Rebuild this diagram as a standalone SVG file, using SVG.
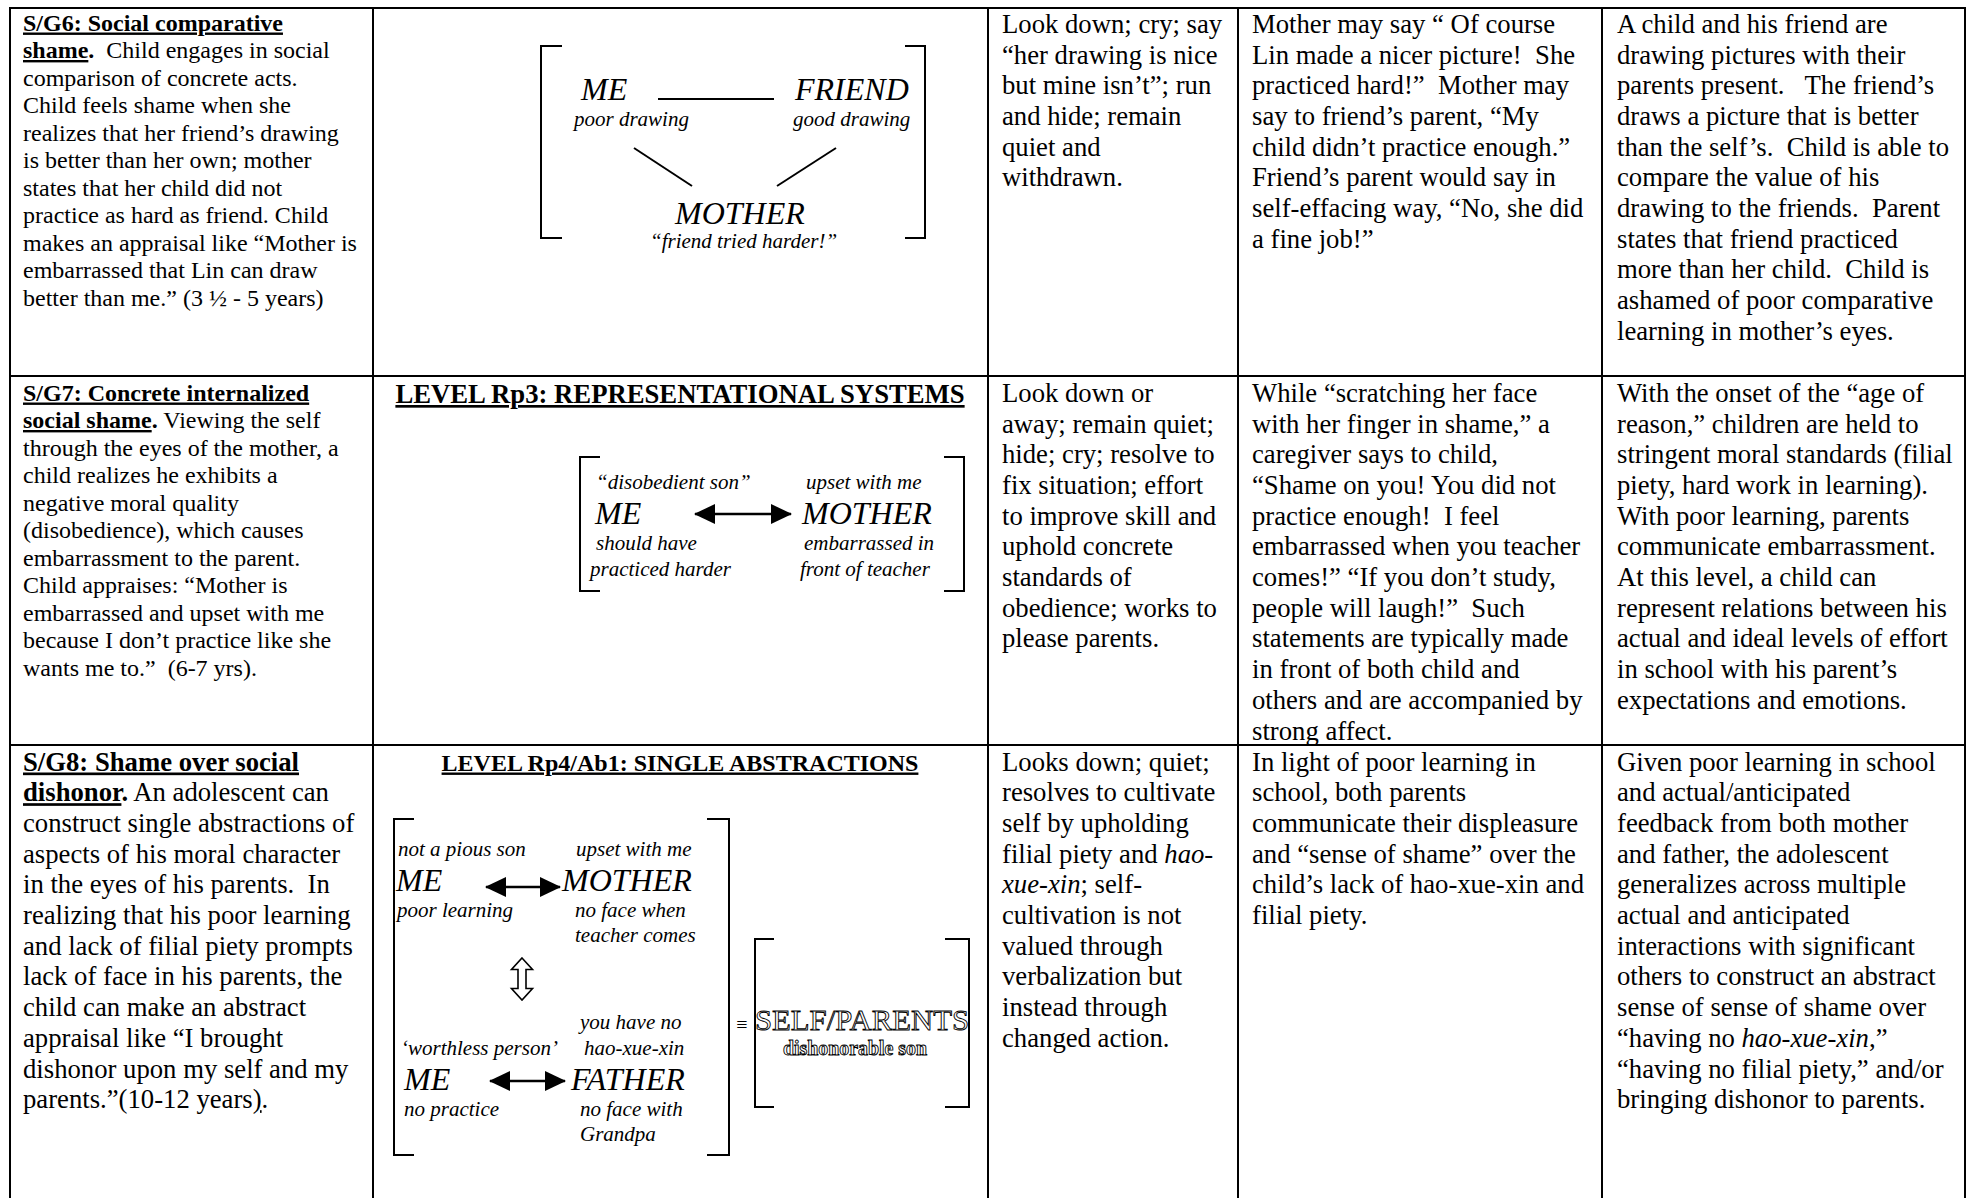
<svg xmlns="http://www.w3.org/2000/svg" width="1967" height="1198" viewBox="0 0 1967 1198">
<style>
text{font-family:"Liberation Serif","Times New Roman","DejaVu Serif",serif;fill:#000;white-space:pre;}
.s24{font-size:24px;}
.s27{font-size:26.7px;}
.bo{font-weight:bold;}
.u{text-decoration:underline;}
.it{font-style:italic;}
.big{font-size:32px;font-style:italic;}
.lab{font-size:21px;font-style:italic;}
.grid line{stroke:#000;stroke-width:2;}
.br{fill:none;stroke:#000;stroke-width:2;}
.con{stroke:#000;stroke-width:2;fill:none;}
.arr{stroke:#000;stroke-width:2.5;fill:none;marker-start:url(#head);marker-end:url(#head);}
.outl{fill:#fff;stroke:#000;stroke-width:0.9;}
</style>
<defs>
<marker id="head" markerUnits="userSpaceOnUse" markerWidth="21" markerHeight="20" refX="20" refY="10" orient="auto-start-reverse" viewBox="0 0 21 20"><path d="M0,0 L21,10 L0,20 Z" fill="#000"/></marker>
</defs>
<rect x="0" y="0" width="1967" height="1198" fill="#fff"/>
<g id="grid" class="grid">
<line x1="10" y1="8" x2="1965" y2="8"/>
<line x1="10" y1="376" x2="1965" y2="376"/>
<line x1="10" y1="745" x2="1965" y2="745"/>
<line x1="10" y1="7" x2="10" y2="1198"/>
<line x1="373" y1="7" x2="373" y2="1198"/>
<line x1="988" y1="7" x2="988" y2="1198"/>
<line x1="1238" y1="7" x2="1238" y2="1198"/>
<line x1="1602" y1="7" x2="1602" y2="1198"/>
<line x1="1965" y1="7" x2="1965" y2="1198"/>
</g>
<g id="r1c1" class="s24">
<text x="23" y="30.5" class="bo u">S/G6: Social comparative</text>
<text x="23" y="58"><tspan class="bo u">shame</tspan><tspan class="bo">.</tspan> &#160;Child engages in social</text>
<text x="23" y="85.5">comparison of concrete acts.</text>
<text x="23" y="113">Child feels shame when she</text>
<text x="23" y="140.5">realizes that her friend’s drawing</text>
<text x="23" y="168">is better than her own; mother</text>
<text x="23" y="195.5">states that her child did not</text>
<text x="23" y="223">practice as hard as friend. Child</text>
<text x="23" y="250.5">makes an appraisal like “Mother is</text>
<text x="23" y="278">embarrassed that Lin can draw</text>
<text x="23" y="305.5">better than me.” (3 ½ - 5 years)</text>
</g>
<g id="r1c3" class="s27">
<text x="1002" y="32.8">Look down; cry; say</text>
<text x="1002" y="63.5">“her drawing is nice</text>
<text x="1002" y="94.2">but mine isn’t”; run</text>
<text x="1002" y="124.9">and hide; remain</text>
<text x="1002" y="155.6">quiet and</text>
<text x="1002" y="186.3">withdrawn.</text>
</g>
<g id="r1c4" class="s27">
<text x="1252" y="32.8">Mother may say “ Of course</text>
<text x="1252" y="63.5">Lin made a nicer picture! &#160;She</text>
<text x="1252" y="94.2">practiced hard!” &#160;Mother may</text>
<text x="1252" y="124.9">say to friend’s parent, “My</text>
<text x="1252" y="155.6">child didn’t practice enough.”</text>
<text x="1252" y="186.3">Friend’s parent would say in</text>
<text x="1252" y="217">self-effacing way, “No, she did</text>
<text x="1252" y="247.7">a fine job!”</text>
</g>
<g id="r1c5" class="s27">
<text x="1617" y="32.8">A child and his friend are</text>
<text x="1617" y="63.5">drawing pictures with their</text>
<text x="1617" y="94.2">parents present. &#160;&#160;The friend’s</text>
<text x="1617" y="124.9">draws a picture that is better</text>
<text x="1617" y="155.6">than the self’s. &#160;Child is able to</text>
<text x="1617" y="186.3">compare the value of his</text>
<text x="1617" y="217">drawing to the friends. &#160;Parent</text>
<text x="1617" y="247.7">states that friend practiced</text>
<text x="1617" y="278.4">more than her child. &#160;Child is</text>
<text x="1617" y="309.1">ashamed of poor comparative</text>
<text x="1617" y="339.8">learning in mother’s eyes.</text>
</g>
<g id="r1-diagram">
<path class="br" d="M562,46 H541 V238 H562"/>
<path class="br" d="M905,46 H925 V238 H905"/>
<g id="r1-me"><text x="581" y="100" class="big">ME</text><text x="574" y="126" class="lab">poor drawing</text></g>
<g id="r1-friend"><text x="795" y="100" class="big">FRIEND</text><text x="793" y="126" class="lab">good drawing</text></g>
<g id="r1-mother"><text x="675" y="224" class="big">MOTHER</text><text x="650" y="248" class="lab">“friend tried harder!”</text></g>
</g>
<g id="r2c1" class="s24">
<text x="23" y="400.5" class="bo u">S/G7: Concrete internalized</text>
<text x="23" y="428"><tspan class="bo u">social shame</tspan><tspan class="bo">.</tspan> Viewing the self</text>
<text x="23" y="455.5">through the eyes of the mother, a</text>
<text x="23" y="483">child realizes he exhibits a</text>
<text x="23" y="510.5">negative moral quality</text>
<text x="23" y="538">(disobedience), which causes</text>
<text x="23" y="565.5">embarrassment to the parent.</text>
<text x="23" y="593">Child appraises: “Mother is</text>
<text x="23" y="620.5">embarrassed and upset with me</text>
<text x="23" y="648">because I don’t practice like she</text>
<text x="23" y="675.5">wants me to.” &#160;(6-7 yrs).</text>
</g>
<g id="r2-title"><text x="680" y="403" class="s27 bo u" text-anchor="middle">LEVEL Rp3: REPRESENTATIONAL SYSTEMS</text></g>
<g id="r2-diagram">
<path class="br" d="M600,457 H580 V591 H600"/>
<path class="br" d="M944,457 H964 V591 H944"/>
<g id="r2-me"><text x="596" y="489" class="lab">“disobedient son”</text><text x="595" y="524" class="big">ME</text><text x="596" y="550" class="lab">should have</text><text x="590" y="576" class="lab">practiced harder</text></g>
<g id="r2-mother"><text x="806" y="489" class="lab">upset with me</text><text x="802" y="524" class="big">MOTHER</text><text x="804" y="550" class="lab">embarrassed in</text><text x="800" y="576" class="lab">front of teacher</text></g>
</g>
<g id="r2c3" class="s27">
<text x="1002" y="401.8">Look down or</text>
<text x="1002" y="432.5">away; remain quiet;</text>
<text x="1002" y="463.2">hide; cry; resolve to</text>
<text x="1002" y="493.9">fix situation; effort</text>
<text x="1002" y="524.6">to improve skill and</text>
<text x="1002" y="555.3">uphold concrete</text>
<text x="1002" y="586">standards of</text>
<text x="1002" y="616.7">obedience; works to</text>
<text x="1002" y="647.4">please parents.</text>
</g>
<g id="r2c4" class="s27">
<text x="1252" y="401.8">While “scratching her face</text>
<text x="1252" y="432.5">with her finger in shame,” a</text>
<text x="1252" y="463.2">caregiver says to child,</text>
<text x="1252" y="493.9">“Shame on you! You did not</text>
<text x="1252" y="524.6">practice enough! &#160;I feel</text>
<text x="1252" y="555.3">embarrassed when you teacher</text>
<text x="1252" y="586">comes!” “If you don’t study,</text>
<text x="1252" y="616.7">people will laugh!” &#160;Such</text>
<text x="1252" y="647.4">statements are typically made</text>
<text x="1252" y="678.1">in front of both child and</text>
<text x="1252" y="708.8">others and are accompanied by</text>
<text x="1252" y="739.5">strong affect.</text>
</g>
<g id="r2c5" class="s27">
<text x="1617" y="401.8">With the onset of the “age of</text>
<text x="1617" y="432.5">reason,” children are held to</text>
<text x="1617" y="463.2">stringent moral standards (filial</text>
<text x="1617" y="493.9">piety, hard work in learning).</text>
<text x="1617" y="524.6">With poor learning, parents</text>
<text x="1617" y="555.3">communicate embarrassment.</text>
<text x="1617" y="586">At this level, a child can</text>
<text x="1617" y="616.7">represent relations between his</text>
<text x="1617" y="647.4">actual and ideal levels of effort</text>
<text x="1617" y="678.1">in school with his parent’s</text>
<text x="1617" y="708.8">expectations and emotions.</text>
</g>
<g id="r3c1" class="s27">
<text x="23" y="770.5" class="bo u">S/G8: Shame over social</text>
<text x="23" y="801.2"><tspan class="bo u">dishonor</tspan><tspan class="bo">.</tspan> An adolescent can</text>
<text x="23" y="831.9">construct single abstractions of</text>
<text x="23" y="862.6">aspects of his moral character</text>
<text x="23" y="893.3">in the eyes of his parents. &#160;In</text>
<text x="23" y="924">realizing that his poor learning</text>
<text x="23" y="954.7">and lack of filial piety prompts</text>
<text x="23" y="985.4">lack of face in his parents, the</text>
<text x="23" y="1016.1">child can make an abstract</text>
<text x="23" y="1046.8">appraisal like “I brought</text>
<text x="23" y="1077.5">dishonor upon my self and my</text>
<text x="23" y="1108.2">parents.”(10-12 years<tspan class="u">)</tspan>.</text>
</g>
<g id="r3-title"><text x="680" y="770.5" class="s24 bo u" text-anchor="middle">LEVEL Rp4/Ab1: SINGLE ABSTRACTIONS</text></g>
<g id="r3-diagram">
<path class="br" d="M414,819 H394 V1155 H414"/>
<path class="br" d="M707,819 H729 V1155 H707"/>
<g id="r3-me1"><text x="398" y="856" class="lab">not a pious son</text><text x="396" y="891" class="big">ME</text><text x="397" y="917" class="lab">poor learning</text></g>
<g id="r3-mother"><text x="576" y="856" class="lab">upset with me</text><text x="562" y="891" class="big">MOTHER</text><text x="575" y="917" class="lab">no face when</text><text x="575" y="942" class="lab">teacher comes</text></g>
<g id="r3-me2"><text x="401" y="1055" class="lab">‘worthless person’</text><text x="404" y="1090" class="big">ME</text><text x="404" y="1116" class="lab">no practice</text></g>
<g id="r3-father"><text x="580" y="1029" class="lab">you have no</text><text x="584" y="1055" class="lab">hao-xue-xin</text><text x="571" y="1090" class="big">FATHER</text><text x="580" y="1116" class="lab">no face with</text><text x="580" y="1141" class="lab">Grandpa</text></g>
<text x="742" y="1031" font-size="20" text-anchor="middle">≡</text>
<g id="r3-selfparents">
<path class="br" d="M774,939 H755 V1107 H774"/>
<path class="br" d="M945,939 H969 V1107 H945"/>
<text x="862" y="1030" font-size="30" class="outl" text-anchor="middle" textLength="214" lengthAdjust="spacingAndGlyphs">SELF/PARENTS</text>
<text x="855" y="1055" font-size="20" font-weight="bold" class="outl" text-anchor="middle" textLength="144" lengthAdjust="spacingAndGlyphs">dishonorable son</text>
</g>
</g>
<g id="r3c3" class="s27">
<text x="1002" y="770.5">Looks down; quiet;</text>
<text x="1002" y="801.2">resolves to cultivate</text>
<text x="1002" y="831.9">self by upholding</text>
<text x="1002" y="862.6">filial piety and <tspan class="it">hao-</tspan></text>
<text x="1002" y="893.3"><tspan class="it">xue-xin</tspan>; self-</text>
<text x="1002" y="924">cultivation is not</text>
<text x="1002" y="954.7">valued through</text>
<text x="1002" y="985.4">verbalization but</text>
<text x="1002" y="1016.1">instead through</text>
<text x="1002" y="1046.8">changed action.</text>
</g>
<g id="r3c4" class="s27">
<text x="1252" y="770.5">In light of poor learning in</text>
<text x="1252" y="801.2">school, both parents</text>
<text x="1252" y="831.9">communicate their displeasure</text>
<text x="1252" y="862.6">and “sense of shame” over the</text>
<text x="1252" y="893.3">child’s lack of hao-xue-xin and</text>
<text x="1252" y="924">filial piety.</text>
</g>
<g id="r3c5" class="s27">
<text x="1617" y="770.5">Given poor learning in school</text>
<text x="1617" y="801.2">and actual/anticipated</text>
<text x="1617" y="831.9">feedback from both mother</text>
<text x="1617" y="862.6">and father, the adolescent</text>
<text x="1617" y="893.3">generalizes across multiple</text>
<text x="1617" y="924">actual and anticipated</text>
<text x="1617" y="954.7">interactions with significant</text>
<text x="1617" y="985.4">others to construct an abstract</text>
<text x="1617" y="1016.1">sense of sense of shame over</text>
<text x="1617" y="1046.8">“having no <tspan class="it">hao-xue-xin</tspan>,”</text>
<text x="1617" y="1077.5">“having no filial piety,” and/or</text>
<text x="1617" y="1108.2">bringing dishonor to parents.</text>
</g>
<g id="connectors">
<line class="con" x1="658" y1="99" x2="774" y2="99"/>
<line class="con" x1="634" y1="148" x2="692" y2="186"/>
<line class="con" x1="836" y1="148" x2="777" y2="186"/>
<line class="arr" x1="695" y1="514" x2="791" y2="514"/>
<line class="arr" x1="486" y1="887" x2="560" y2="887"/>
<line class="arr" x1="490" y1="1081" x2="565" y2="1081"/>
<path d="M522,958 L532.5,969.5 L526,969.5 L526,988.5 L532.5,988.5 L522,1000 L511.5,988.5 L518,988.5 L518,969.5 L511.5,969.5 Z" fill="#fff" stroke="#000" stroke-width="1.6"/>
</g>
</svg>
